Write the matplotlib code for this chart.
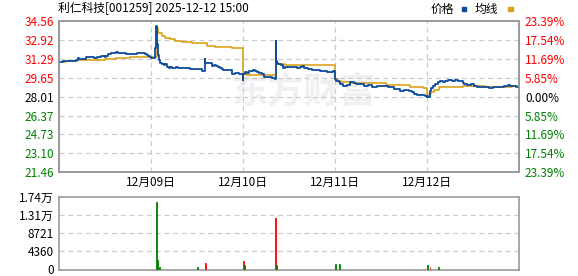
import numpy as np
import matplotlib
matplotlib.use('Agg')
import matplotlib.pyplot as plt
from matplotlib.patches import Rectangle

plt.rcParams['font.family'] = ['Noto Sans CJK SC', 'DejaVu Sans']

title = '利仁科技[001259] 2025-12-12 15:00'
prev_close = 28.01
price_ticks = [21.46, 23.10, 24.73, 26.37, 28.01, 29.65, 31.29, 32.92, 34.56]
pct_labels = ['23.39%', '17.54%', '11.69%', '5.85%', '0.00%',
              '5.85%', '11.69%', '17.54%', '23.39%']
day_labels = ['12月09日', '12月10日', '12月11日', '12月12日']
day_bounds = [240, 480, 720, 960]
vol_ticks = [0, 4360, 8721, 13081, 17442]
vol_labels = ['0', '4360', '8721', '1.31万', '1.74万']

# minutes since 12-08 open (240 per session), price
price_t = [0, 6, 10, 19, 28, 36, 45, 50, 54, 60, 67, 70, 72, 80, 89, 93, 100, 106,
           111, 116, 120, 124, 128, 133, 137, 144, 150, 155, 159, 165, 172, 176,
           185, 194, 203, 210, 216, 224, 230, 233, 238,
           240, 245, 250, 252, 254, 256, 258, 261, 264, 268, 273, 277, 281, 286,
           290, 294, 300, 306, 312, 320, 328, 338, 342, 350, 360, 368, 373, 377,
           380, 382, 386, 390, 394, 399, 405, 410, 416, 420, 425, 429, 435, 443,
           451, 460, 469, 476,
           480, 481, 484, 490, 495, 500, 505, 510, 517, 522, 530, 535, 545, 555,
           563, 565, 566, 568, 572, 578, 584, 590, 600, 610, 620, 628, 634, 640,
           650, 660, 670, 680, 690, 700, 708, 714,
           720, 723, 730, 733, 740, 750, 753, 760, 770, 775, 785, 795, 805, 815,
           830, 840, 850, 857, 865, 873, 880, 885, 890, 900, 912, 920, 926, 932,
           945, 950, 955, 959,
           960, 962, 966, 970, 975, 979, 988, 993, 1000, 1005, 1015, 1025, 1032,
           1040, 1048, 1053, 1056, 1063, 1075, 1082, 1090, 1100, 1110, 1120, 1130,
           1145, 1155, 1160, 1165, 1170, 1175, 1180, 1190, 1199]
price = [31.06, 31.03, 31.10, 31.12, 31.15, 31.10, 31.17, 31.40, 31.29, 31.30,
         31.32, 31.46, 31.49, 31.49, 31.47, 31.40, 31.42, 31.45, 31.58, 31.52,
         31.46, 31.55, 31.75, 31.72, 31.81, 31.78, 31.89, 31.84, 31.78, 31.80,
         31.81, 31.75, 31.69, 31.71, 31.81, 31.83, 31.79, 31.69, 31.60, 31.52,
         31.42,
         31.40, 31.35, 31.45, 32.27, 34.13, 32.60, 31.60, 31.18, 30.97, 30.83,
         30.80, 30.86, 30.60, 30.52, 30.58, 30.50, 30.47, 30.55, 30.49, 30.51,
         30.46, 30.50, 30.42, 30.40, 30.38, 30.40, 30.25, 30.20, 31.26, 30.95,
         30.97, 30.90, 30.92, 30.69, 30.72, 30.66, 30.62, 30.54, 30.40, 30.31,
         30.30, 30.30, 30.02, 30.05, 29.98, 29.97,
         29.45, 29.97, 30.11, 30.10, 30.25, 30.22, 30.30, 30.20, 30.11, 30.05,
         29.97, 29.70, 29.68, 29.66, 29.55, 32.84, 31.12, 30.90, 30.83, 30.78,
         30.54, 30.60, 30.56, 30.62, 30.54, 30.58, 30.69, 30.50, 30.40, 30.31,
         30.35, 30.25, 30.20, 30.18, 30.11, 30.20,
         29.54, 29.39, 29.25, 29.11, 28.96, 28.99, 29.05, 29.25, 29.22, 29.11,
         29.10, 28.96, 28.98, 28.88, 28.90, 28.96, 28.93, 28.82, 28.85, 28.67,
         28.70, 28.67, 28.53, 28.55, 28.53, 28.45, 28.25, 28.13, 28.16, 28.15,
         28.08, 28.02,
         28.10, 28.01, 28.53, 28.76, 28.96, 29.11, 29.25, 29.39, 29.30, 29.39,
         29.42, 29.39, 29.43, 29.35, 29.39, 29.20, 29.11, 29.05, 29.08, 28.96,
         28.82, 28.85, 28.82, 28.80, 28.82, 28.85, 28.88, 28.96, 28.92, 29.00,
         28.96, 28.90, 28.88, 28.82]

avg_t = [0, 19, 47, 72, 120, 149, 185,
         240, 254, 255, 258, 268, 277, 290, 303, 320, 346, 386, 407, 451,
         480, 490, 530, 540, 565, 566, 575, 590, 610,
         720, 727, 736, 758, 853, 915, 950,
         960, 962, 969, 978, 991, 1004, 1053, 1110, 1180, 1199]
avg_price = [31.06, 31.12, 31.18, 31.23, 31.29, 31.38, 31.46,
             31.46, 31.46, 34.00, 33.56, 33.27, 33.07, 32.99, 32.84, 32.79, 32.70,
             32.41, 32.33, 32.21,
             29.97, 29.93, 29.90, 29.85, 29.83, 30.89, 30.83, 30.78, 30.74,
             29.54, 29.34, 29.25, 29.17, 29.05, 28.88, 28.76,
             28.24, 28.27, 28.41, 28.61, 28.82, 28.88, 28.96, 28.88, 28.96, 28.96]

vol_t = [254, 257, 262, 361, 382, 481, 483, 564, 567, 720, 731, 960, 967, 989]
vol = [16230, 2100, 300, 500, 1450, 1940, 900, 12360, 900, 1130, 1130, 900, 300, 500]
vol_up = [False, False, False, False, True, True, False, True, False, False, False,
          False, True, False]

fig = plt.figure(figsize=(5.78, 2.76), dpi=100)
ax = fig.add_axes([0.1016, 0.3768, 0.797, 0.546])
axv = fig.add_axes([0.1016, 0.0217, 0.797, 0.2656])

border = '#999999'
grid_c = '#cccccc'
red = '#ff0000'
green = '#008000'

# price chart
ax.plot(price_t, price, color='#0d4c9c', lw=1.3, drawstyle='steps-post', zorder=3)
ax.plot(avg_t, avg_price, color='#dba21c', lw=1.2, drawstyle='steps-post', zorder=2)
ax.text(640, 28.45, '东方财富', color='#f0f0f2', fontsize=26, fontweight='bold',
        ha='center', va='center', zorder=0.5)
ax.set_xlim(0, 1200)
ax.set_ylim(price_ticks[0], price_ticks[-1])
for v in price_ticks[1:-1]:
    ax.axhline(v, color=grid_c, lw=0.9, ls=(0, (4, 3)), zorder=1)
for d in day_bounds:
    ax.axvline(d, color=grid_c, lw=0.9, ls=(0, (4, 3)), zorder=1)
ax.set_yticks(price_ticks)
ax.set_yticklabels(['%.2f' % v for v in price_ticks])
ax.set_xticks(day_bounds)
ax.set_xticklabels(day_labels)
ax.tick_params(length=0, labelsize=8.5)
ax.tick_params(axis='y', pad=3.5)
ax.tick_params(axis='x', pad=3)
for lab, v in zip(ax.get_yticklabels(), price_ticks):
    lab.set_color(red if v > prev_close else (green if v < prev_close else 'black'))

axr = ax.twinx()
axr.set_ylim(price_ticks[0], price_ticks[-1])
axr.set_yticks(price_ticks)
axr.set_yticklabels(pct_labels)
axr.tick_params(length=0, labelsize=8.5, pad=4)
for lab, v in zip(axr.get_yticklabels(), price_ticks):
    lab.set_color(red if v > prev_close else (green if v < prev_close else 'black'))

for a in (ax, axr, axv):
    for s in a.spines.values():
        s.set_color(border)
        s.set_linewidth(1.2)

# volume chart
vcols = [red if u else green for u in vol_up]
axv.bar(vol_t, vol, width=2.2, color=vcols, edgecolor=vcols, linewidth=0.6, zorder=3)
axv.set_xlim(0, 1200)
axv.set_ylim(-350, vol_ticks[-1])
for v in vol_ticks[1:-1]:
    axv.axhline(v, color=grid_c, lw=0.9, ls=(0, (4, 3)), zorder=1)
axv.set_xticks([])
axv.set_yticks(vol_ticks)
axv.set_yticklabels(vol_labels)
axv.tick_params(length=0, labelsize=8.5, pad=3.5)

# header
fig.text(58 / 578, 1 - 9 / 276, title, fontsize=8.5, ha='left', va='center')
fig.text(431 / 578, 1 - 9 / 276, '价格', fontsize=8.5, ha='left', va='center')
fig.text(475 / 578, 1 - 9 / 276, '均线', fontsize=8.5, ha='left', va='center')
fig.patches.append(Rectangle((462 / 578, 1 - 10.5 / 276), 4 / 578, 3 / 276,
                             transform=fig.transFigure, color='#0d4c9c'))
fig.patches.append(Rectangle((508 / 578, 1 - 10.5 / 276), 5 / 578, 3 / 276,
                             transform=fig.transFigure, color='#dba21c'))

fig.savefig('out.png', dpi=100)
